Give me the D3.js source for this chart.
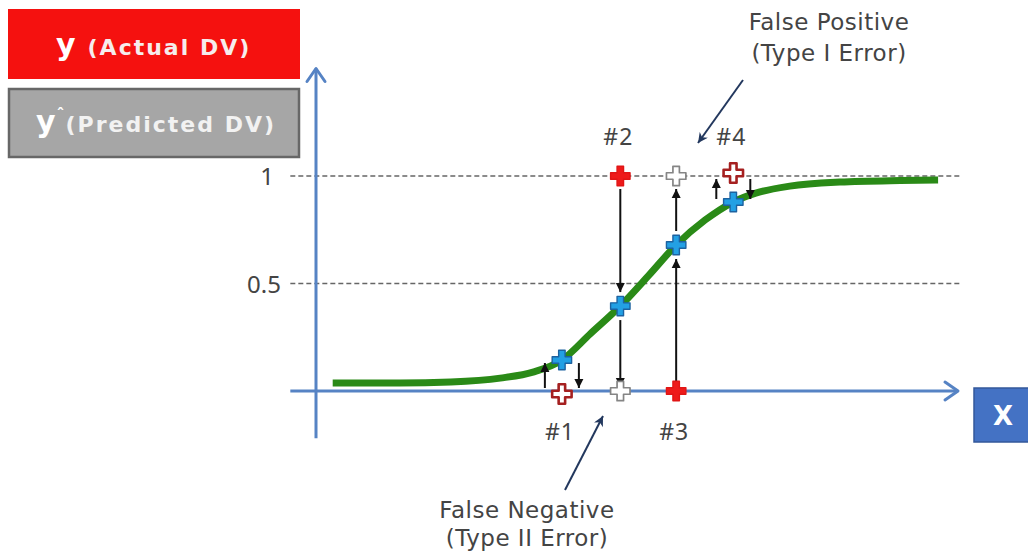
<!DOCTYPE html>
<html>
<head>
<meta charset="utf-8">
<script src="https://cdn.jsdelivr.net/npm/d3@7"></script>
<style>
  body { margin: 0; background: #fff; }
  svg { display: block; }
</style>
</head>
<body>
<svg id="chart" width="1028" height="556"></svg>
<script>
// Fitted logistic curve, sampled along x (probability of y = 1)
const curveX = [2.6, 13, 21, 28.7, 33.8, 38.3, 42.7, 47.4, 51.9, 56.1, 60.6, 65.0, 68.5, 73.8, 81.6, 91, 96.9];
const curveP = [0.037, 0.037, 0.042, 0.060, 0.088, 0.144, 0.265, 0.395, 0.54, 0.679, 0.795, 0.879, 0.92, 0.953, 0.972, 0.979, 0.981];

// Four observations: actual class, fitted probability, predicted class
const obsLabels = ["#1", "#2", "#3", "#4"];
const obsX = [38.3, 47.4, 56.1, 65.0];
const obsActual = [0, 1, 0, 1];
const obsProb = [0.144, 0.395, 0.679, 0.879];
const obsPredicted = [0, 0, 1, 1];

// Reference lines on the probability axis
const yTicks = [0.5, 1];
const yTickLabels = ["0.5", "1"];

const legendActual = ["y", "(Actual DV)"];
const legendPredicted = ["y", "(Predicted DV)"];
const xAxisLabel = "X";
const noteFalsePositive = ["False Positive", "(Type I Error)"];
const noteFalseNegative = ["False Negative", "(Type II Error)"];

const svg = d3.select("#chart");
const x = d3.scaleLinear().domain([0, 100]).range([316, 958]);
const y = d3.scaleLinear().domain([0, 1]).range([391, 176]);

const axisBlue = "#5683c4";
const textGrey = "#444";
const font = "'Noto Sans', 'DejaVu Sans', sans-serif";
const noteFont = "'DejaVu Sans', 'Noto Sans', sans-serif";
const boldFont = "'DejaVu Sans', 'Noto Sans', sans-serif";

const defs = svg.append("defs");
defs.append("marker")
  .attr("id", "head-black")
  .attr("viewBox", "0 0 10 10")
  .attr("refX", 10).attr("refY", 5)
  .attr("markerWidth", 9).attr("markerHeight", 10)
  .attr("markerUnits", "userSpaceOnUse")
  .attr("orient", "auto")
  .append("path").attr("d", "M0,0 L10,5 L0,10 Z").attr("fill", "#111");
defs.append("marker")
  .attr("id", "head-navy")
  .attr("viewBox", "0 0 10 10")
  .attr("refX", 10).attr("refY", 5)
  .attr("markerWidth", 11).attr("markerHeight", 10)
  .attr("markerUnits", "userSpaceOnUse")
  .attr("orient", "auto")
  .append("path").attr("d", "M0,0 L10,5 L0,10 L3,5 Z").attr("fill", "#23385e");

// Dashed reference lines
svg.append("g").selectAll("line")
  .data(yTicks)
  .join("line")
  .attr("x1", x(-4)).attr("x2", x(100.3))
  .attr("y1", d => y(d)).attr("y2", d => y(d))
  .attr("stroke", "#666")
  .attr("stroke-width", 1.7)
  .attr("stroke-dasharray", "5,3");

svg.append("g").selectAll("text")
  .data(yTicks)
  .join("text")
  .attr("x", d => d === 1 ? 274 : 281)
  .attr("y", d => y(d) + 9)
  .attr("text-anchor", "end")
  .attr("font-family", font)
  .attr("font-size", 24)
  .attr("fill", textGrey)
  .text((d, i) => yTickLabels[i]);

// Axes drawn as arrows
const axes = svg.append("g").attr("stroke", axisBlue).attr("stroke-width", 3).attr("fill", "none");
axes.append("line")
  .attr("x1", x(0)).attr("x2", x(0))
  .attr("y1", y(-0.22)).attr("y2", y(1.5));
axes.append("path")
  .attr("d", `M${x(0) - 9},${y(1.5) + 13} L${x(0)},${y(1.5)} L${x(0) + 9},${y(1.5) + 13}`)
  .attr("stroke-linejoin", "round").attr("stroke-linecap", "round");
axes.append("line")
  .attr("x1", x(-4)).attr("x2", x(100))
  .attr("y1", y(0)).attr("y2", y(0));
axes.append("path")
  .attr("d", `M${x(100) - 13},${y(0) - 9} L${x(100)},${y(0)} L${x(100) - 13},${y(0) + 9}`)
  .attr("stroke-linejoin", "round").attr("stroke-linecap", "round");

// Logistic curve
const curveData = curveX.map((v, i) => [v, curveP[i]]);
svg.append("path")
  .datum(curveData)
  .attr("d", d3.line().x(d => x(d[0])).y(d => y(d[1])).curve(d3.curveMonotoneX))
  .attr("fill", "none")
  .attr("stroke", "#2a8a17")
  .attr("stroke-width", 7)
  .attr("stroke-linecap", "butt");

// Residual arrows: actual -> probability, probability -> predicted class
const arrows = [];
obsX.forEach((xv, i) => {
  const a = obsActual[i], p = obsProb[i], c = obsPredicted[i];
  const segs = [[a, p], [p, c]];
  if (a === c) {
    // both arrows share the same span: upward on the left, downward on the right
    segs.forEach(([from, to]) => {
      const s1 = y(from), s2 = y(to);
      const dir = Math.sign(s2 - s1);
      arrows.push({ x: x(xv) + (dir < 0 ? -17 : 17), y1: s1 + dir * 3, y2: s2 - dir * 3 });
    });
  } else {
    const inset = v => (v === 0 ? 4 : v === 1 ? 13 : 14);
    segs.forEach(([from, to]) => {
      const s1 = y(from), s2 = y(to);
      const dir = Math.sign(s2 - s1);
      arrows.push({ x: x(xv), y1: s1 + dir * inset(from), y2: s2 - dir * inset(to) });
    });
  }
});
svg.append("g").selectAll("line")
  .data(arrows)
  .join("line")
  .attr("x1", d => d.x).attr("x2", d => d.x)
  .attr("y1", d => d.y1).attr("y2", d => d.y2)
  .attr("stroke", "#111")
  .attr("stroke-width", 2)
  .attr("marker-end", "url(#head-black)");

// Cross markers
const cross = d3.symbol().type(d3.symbolCross).size(210);
const marks = svg.append("g").attr("stroke-linejoin", "round");
const same = i => obsActual[i] === obsPredicted[i];
const shift = i => (same(i) ? (obsActual[i] === 1 ? -3 : 3) : 0);
// fitted probabilities
marks.selectAll(".prob")
  .data(obsX)
  .join("path")
  .attr("class", "prob")
  .attr("transform", (d, i) => `translate(${x(d)},${y(obsProb[i])})`)
  .attr("d", cross())
  .attr("fill", "#23a0e4")
  .attr("stroke", "#1d62a0")
  .attr("stroke-width", 1.4);
// actual classes
marks.selectAll(".actual")
  .data(obsX)
  .join("path")
  .attr("class", "actual")
  .attr("transform", (d, i) => `translate(${x(d)},${y(obsActual[i]) + shift(i)})`)
  .attr("d", cross())
  .attr("fill", (d, i) => same(i) ? "#fff" : "#ee1a1a")
  .attr("stroke", (d, i) => same(i) ? "#a52020" : "#e01515")
  .attr("stroke-width", (d, i) => same(i) ? 2.6 : 1.4);
// predicted classes (drawn where they differ from the actual class)
marks.selectAll(".pred")
  .data(obsX.filter((d, i) => !same(i)))
  .join("path")
  .attr("class", "pred")
  .attr("transform", d => {
    const i = obsX.indexOf(d);
    return `translate(${x(d)},${y(obsPredicted[i])})`;
  })
  .attr("d", cross())
  .attr("fill", "#fff")
  .attr("stroke", "#858585")
  .attr("stroke-width", 1.7);

// Observation labels
svg.append("g").selectAll("text")
  .data(obsX)
  .join("text")
  .attr("x", d => x(d) - 2)
  .attr("y", (d, i) => obsActual[i] === 1 ? y(1) - 31 : y(0) + 49)
  .attr("text-anchor", "middle")
  .attr("font-family", font)
  .attr("font-size", 23)
  .attr("letter-spacing", 1)
  .attr("fill", textGrey)
  .text((d, i) => obsLabels[i]);

// Error-type notes with pointers
function note(lines, cx, baseline, gap) {
  svg.append("text")
    .attr("x", cx).attr("y", baseline)
    .attr("text-anchor", "middle")
    .attr("font-family", noteFont)
    .attr("font-size", 23)
    .attr("letter-spacing", 0.5)
    .attr("fill", textGrey)
    .selectAll("tspan")
    .data(lines)
    .join("tspan")
    .attr("x", cx)
    .attr("dy", (d, i) => i === 0 ? 0 : gap)
    .text(d => d);
}
note(noteFalsePositive, 829, 30, 31);
note(noteFalseNegative, 527, 518, 28);
svg.append("line")
  .attr("x1", 743).attr("y1", 80).attr("x2", 698).attr("y2", 143)
  .attr("stroke", "#23385e").attr("stroke-width", 2)
  .attr("marker-end", "url(#head-navy)");
svg.append("line")
  .attr("x1", 565).attr("y1", 490).attr("x2", 603).attr("y2", 416)
  .attr("stroke", "#23385e").attr("stroke-width", 2)
  .attr("marker-end", "url(#head-navy)");

// Legend boxes
const legend = svg.append("g").attr("font-family", boldFont).attr("font-weight", "bold").attr("fill", "#fff");
legend.append("rect")
  .attr("x", 8).attr("y", 9).attr("width", 292).attr("height", 70)
  .attr("fill", "#f5110f");
const t1 = legend.append("text").attr("x", 56).attr("y", 55);
t1.append("tspan").attr("font-size", 30).text(legendActual[0]);
t1.append("tspan").attr("font-size", 22).attr("letter-spacing", 2).attr("dx", 12).attr("fill", "#f6ecec").text(legendActual[1]);

legend.append("rect")
  .attr("x", 9).attr("y", 89).attr("width", 290).attr("height", 68)
  .attr("fill", "#a6a6a6")
  .attr("stroke", "#676767").attr("stroke-width", 2.5);
const t2 = legend.append("text").attr("x", 36).attr("y", 132);
t2.append("tspan").attr("font-size", 30).text(legendPredicted[0]);
t2.append("tspan").attr("font-size", 16).attr("dx", 1).attr("dy", -12).text("\u02C6");
t2.append("tspan").attr("font-size", 22).attr("letter-spacing", 2).attr("dx", 1).attr("dy", 12).attr("fill", "#f2f2f2").text(legendPredicted[1]);

// X axis label box
svg.append("rect")
  .attr("x", 974).attr("y", 388).attr("width", 60).attr("height", 54)
  .attr("fill", "#4472c4").attr("stroke", "#33589b").attr("stroke-width", 1.5);
svg.append("text")
  .attr("x", 1003).attr("y", 425)
  .attr("text-anchor", "middle")
  .attr("font-family", boldFont).attr("font-weight", "bold")
  .attr("font-size", 26).attr("fill", "#fff")
  .text(xAxisLabel);
</script>
</body>
</html>
